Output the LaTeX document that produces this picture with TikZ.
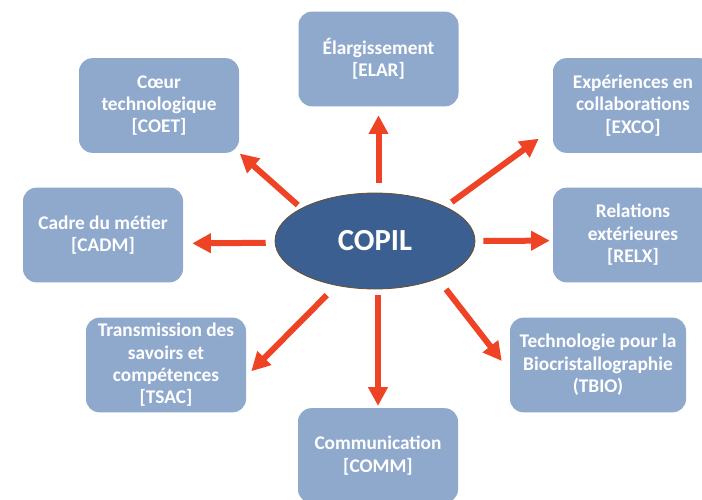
\documentclass[tikz,border=0pt]{standalone}
\RequirePackage{fontspec}
\setmainfont{Carlito}
\usetikzlibrary{arrows.meta,shapes.geometric}
\definecolor{boxblue}{RGB}{143,169,205}
\definecolor{copilblue}{RGB}{60,95,146}
\definecolor{arrowred}{RGB}{238,67,36}
\definecolor{rimbrown}{RGB}{110,80,40}

\begin{document}
\begin{tikzpicture}[x=0.75pt,y=-0.75pt,
			box/.style={fill=boxblue,rounded corners=10pt,minimum width=120pt,minimum height=71pt,text=white,align=center,font=\bfseries\fontsize{14.5}{16.8}\selectfont},
			arr/.style={-{Triangle[length=14pt,width=14pt]},line width=4.5pt,color=arrowred}]
			\useasboundingbox (0,0) rectangle (702,499);
			\node[draw=rimbrown,fill=copilblue,ellipse,line width=0.6pt,minimum width=150pt,minimum height=72pt,inner sep=0pt,text=white,font=\bfseries\fontsize{23}{27}\selectfont] (copil) at (375,241){COPIL};
			\node[box] (elar) at (378.5,59){Élargissement\\ {[ELAR]}};
			\node[box] (coet) at (159,105.5){Cœur\\ technologique\\ {[COET]}};
			\node[box] (exco) at (633,105.5){Expériences en\\ collaborations\\ {[EXCO]}};
			\node[box] (cadm) at (103,235){Cadre du métier\\ {[CADM]}};
			\node[box] (relx) at (633,235){Relations\\ extérieures\\ {[RELX]}};
			\node[box] (tsac) at (166,365){Transmission des\\ savoirs et\\ compétences\\ {[TSAC]}};
			\node[box,minimum width=132pt] (tbio) at (598,365){Technologie pour la\\ Biocristallographie\\ (TBIO)};
			\node[box] (comm) at (378,455.5){Communication\\ {[COMM]}};
			\draw (elar.south |- copil.north) edge [arr, shorten <=7.5pt, shorten >=6.5pt] (elar.south);
			\draw (copil.156) edge [arr, shorten <=3.5pt, shorten >=0.5pt] (coet.south east);
			\draw (copil.26) edge [arr, shorten <=5.7pt, shorten >=12.9pt] (exco.196);
			\draw (copil.181) edge [arr, shorten <=6.7pt, shorten >=6.7pt] (cadm.354);
			\draw (copil.east) edge [arr, shorten <=6pt, shorten >=2.2pt] (relx.184);
			\draw (copil.229) edge [arr, shorten <=10pt, shorten >=5.3pt] (tsac.352);
			\draw (copil.south -| comm.north) edge [arr, shorten <=4.5pt, shorten >=1.5pt] (comm.north);
			\draw (copil.329) edge [arr, shorten <=10pt, shorten >=9.7pt] (tbio.184);
		\end{tikzpicture}
\end{document}
